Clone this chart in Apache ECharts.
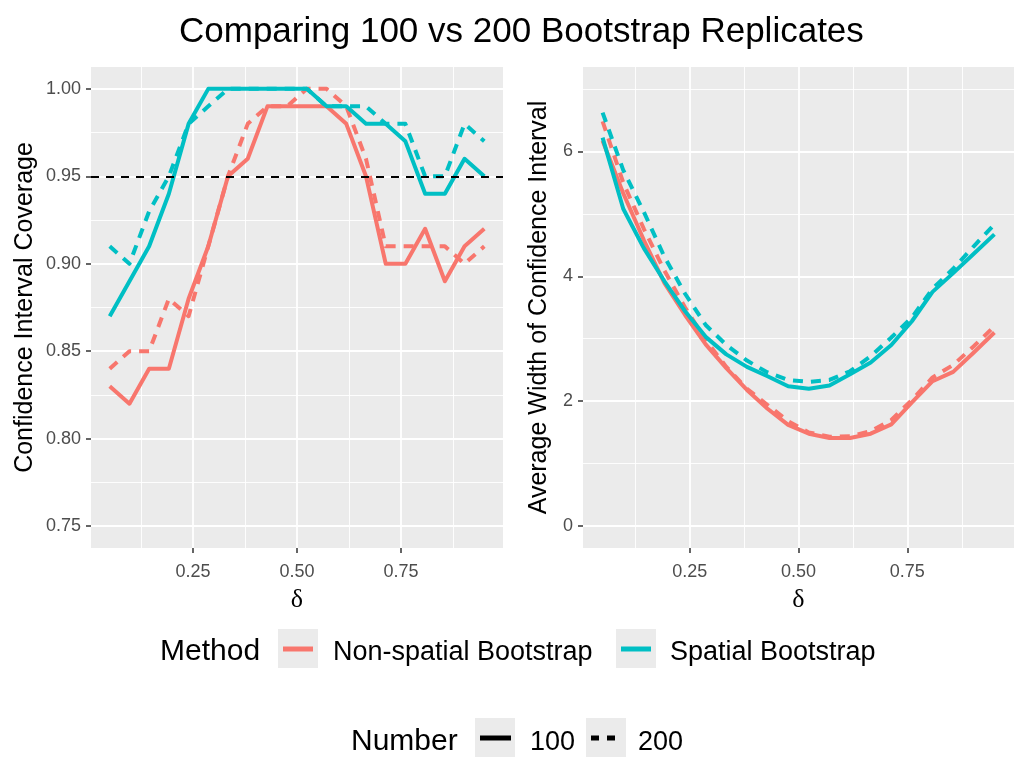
<!DOCTYPE html>
<html>
<head>
<meta charset="utf-8">
<script src="https://cdn.jsdelivr.net/npm/echarts@6/dist/echarts.min.js"></script>
<style>
  html, body { margin: 0; padding: 0; background: #fff; }
  #main { width: 1014px; height: 758px; }
</style>
</head>
<body>
<div id="main"></div>
<script>
// delta values (seq(0.05, 0.95, length = 20))
var delta = [0.05, 0.0974, 0.1447, 0.1921, 0.2395, 0.2868, 0.3342, 0.3816, 0.4289, 0.4763,
             0.5237, 0.5711, 0.6184, 0.6658, 0.7132, 0.7605, 0.8079, 0.8553, 0.9026, 0.95];

// coverage
var covNonSpatial100 = [0.83, 0.82, 0.84, 0.84, 0.88, 0.91, 0.95, 0.96, 0.99, 0.99, 0.99, 0.99, 0.98, 0.95, 0.90, 0.90, 0.92, 0.89, 0.91, 0.92];
var covNonSpatial200 = [0.84, 0.85, 0.85, 0.88, 0.87, 0.91, 0.95, 0.98, 0.99, 0.99, 1.00, 1.00, 0.99, 0.96, 0.91, 0.91, 0.91, 0.91, 0.90, 0.91];
var covSpatial100 = [0.87, 0.89, 0.91, 0.94, 0.98, 1.00, 1.00, 1.00, 1.00, 1.00, 1.00, 0.99, 0.99, 0.98, 0.98, 0.97, 0.94, 0.94, 0.96, 0.95];
var covSpatial200 = [0.91, 0.90, 0.93, 0.95, 0.98, 0.99, 1.00, 1.00, 1.00, 1.00, 1.00, 0.99, 0.99, 0.99, 0.98, 0.98, 0.95, 0.95, 0.98, 0.97];
var nominal = 0.95;

// average width
var widNonSpatial100 = [6.17, 5.33, 4.58, 3.89, 3.38, 2.91, 2.53, 2.18, 1.88, 1.62, 1.48, 1.41, 1.41, 1.48, 1.63, 1.98, 2.32, 2.47, 2.78, 3.10];
var widNonSpatial200 = [6.48, 5.50, 4.76, 4.09, 3.50, 2.98, 2.55, 2.20, 1.94, 1.68, 1.50, 1.43, 1.44, 1.52, 1.70, 2.02, 2.38, 2.58, 2.88, 3.20];
var widSpatial100 = [6.22, 5.08, 4.45, 3.92, 3.44, 3.03, 2.75, 2.55, 2.40, 2.24, 2.20, 2.25, 2.43, 2.62, 2.90, 3.28, 3.75, 4.05, 4.36, 4.67];
var widSpatial200 = [6.62, 5.70, 5.03, 4.31, 3.72, 3.22, 2.90, 2.65, 2.46, 2.34, 2.31, 2.34, 2.48, 2.72, 3.02, 3.34, 3.80, 4.12, 4.48, 4.83];

// ticks
var xMajor = [0.25, 0.5, 0.75];
var xMinor = [0.125, 0.375, 0.625, 0.875];
var covMajor = [0.75, 0.8, 0.85, 0.9, 0.95, 1.0];
var covMinor = [0.775, 0.825, 0.875, 0.925, 0.975];
var widMajor = [0, 2, 4, 6];
var widMinor = [1, 3, 5, 7];

var RED = '#F8766D', CYAN = '#00BFC4';
var SANS = 'Liberation Sans, Arial, sans-serif';
var DASH = [10, 8];

function pairs(ys) {
  return delta.map(function (d, i) { return [d, ys[i]]; });
}

function majorAxis(grid, min, max, ticks, fmt, margin, extra) {
  var ax = {
    gridIndex: grid, type: 'value', min: min, max: max,
    axisLine: { show: false, onZero: false },
    axisTick: { show: true, customValues: ticks, length: 5, lineStyle: { color: '#333', width: 1.5 } },
    axisLabel: { customValues: ticks, formatter: fmt, color: '#4d4d4d', fontSize: 18, fontFamily: SANS, margin: margin },
    splitLine: { show: true, lineStyle: { color: '#ffffff', width: 1.8 } }
  };
  for (var k in extra) ax[k] = extra[k];
  return ax;
}

function minorAxis(grid, min, max, ticks) {
  return {
    gridIndex: grid, type: 'value', min: min, max: max,
    axisLine: { show: false, onZero: false },
    axisTick: { show: false, customValues: ticks },
    axisLabel: { show: false, customValues: ticks },
    splitLine: { show: true, lineStyle: { color: '#ffffff', width: 0.9 } }
  };
}

function line(xi, yi, ys, color, dash) {
  return {
    type: 'line', xAxisIndex: xi, yAxisIndex: yi, data: pairs(ys),
    symbol: 'none', animation: false, silent: true,
    lineStyle: { color: color, width: 4, type: dash || 'solid', cap: 'butt', join: 'round' }
  };
}

var deltaName = { name: 'δ', nameLocation: 'middle', nameGap: 39,
  nameTextStyle: { fontFamily: 'Liberation Serif, serif', fontSize: 26, color: '#000' } };

var myChart = echarts.init(document.getElementById('main'));

var options = {
  backgroundColor: '#ffffff',
  animation: false,
  title: {
    text: 'Comparing 100 vs 200 Bootstrap Replicates',
    left: 174, top: 10,
    textStyle: { fontFamily: SANS, fontWeight: 'normal', fontSize: 35, color: '#000' }
  },
  grid: [
    { left: 91, top: 67, width: 412, height: 481, show: true, backgroundColor: '#EBEBEB', borderWidth: 0 },
    { left: 583, top: 67, width: 440, height: 481, show: true, backgroundColor: '#EBEBEB', borderWidth: 0 }
  ],
  xAxis: [
    majorAxis(0, 0.005, 0.995, xMajor, function (v) { return v.toFixed(2); }, 15, deltaName),
    minorAxis(0, 0.005, 0.995, xMinor),
    majorAxis(1, 0.005, 0.995, xMajor, function (v) { return v.toFixed(2); }, 15, deltaName),
    minorAxis(1, 0.005, 0.995, xMinor)
  ],
  yAxis: [
    majorAxis(0, 0.7375, 1.0125, covMajor, function (v) { return v.toFixed(2); }, 10,
      { name: 'Confidence Interval Coverage', nameLocation: 'middle', nameGap: 53,
        nameTextStyle: { fontFamily: SANS, fontSize: 25, color: '#000' } }),
    minorAxis(0, 0.7375, 1.0125, covMinor),
    majorAxis(1, -0.35, 7.35, widMajor, function (v) { return String(v); }, 10,
      { name: 'Average Width of Confidence Interval', nameLocation: 'middle', nameGap: 31,
        nameTextStyle: { fontFamily: SANS, fontSize: 25, color: '#000' } }),
    minorAxis(1, -0.35, 7.35, widMinor)
  ],
  series: [
    line(0, 0, covNonSpatial100, RED),
    line(0, 0, covNonSpatial200, RED, DASH),
    line(0, 0, covSpatial100, CYAN),
    line(0, 0, covSpatial200, CYAN, DASH),
    line(2, 2, widNonSpatial100, RED),
    line(2, 2, widNonSpatial200, RED, DASH),
    line(2, 2, widSpatial100, CYAN),
    line(2, 2, widSpatial200, CYAN, DASH),
    {
      type: 'line', xAxisIndex: 0, yAxisIndex: 0, data: [], z: 5, silent: true,
      markLine: {
        silent: true, symbol: 'none', animation: false, label: { show: false },
        lineStyle: { color: '#000', width: 2, type: [8, 7] },
        data: [{ yAxis: nominal }]
      }
    }
  ],
  graphic: [
    // Method legend
    { type: 'text', left: 160, top: 637, style: { text: 'Method', font: '30px ' + SANS, fill: '#000' } },
    { type: 'rect', shape: { x: 278, y: 629, width: 40, height: 39 }, style: { fill: '#EBEBEB' } },
    { type: 'line', shape: { x1: 283, y1: 649, x2: 313, y2: 649 }, style: { stroke: RED, lineWidth: 5 } },
    { type: 'text', left: 333, top: 639, style: { text: 'Non-spatial Bootstrap', font: '27px ' + SANS, fill: '#000' } },
    { type: 'rect', shape: { x: 616, y: 629, width: 40, height: 39 }, style: { fill: '#EBEBEB' } },
    { type: 'line', shape: { x1: 621, y1: 649, x2: 651, y2: 649 }, style: { stroke: CYAN, lineWidth: 5 } },
    { type: 'text', left: 670, top: 639, style: { text: 'Spatial Bootstrap', font: '27px ' + SANS, fill: '#000' } },
    // Number legend
    { type: 'text', left: 351, top: 727, style: { text: 'Number', font: '30px ' + SANS, fill: '#000' } },
    { type: 'rect', shape: { x: 475, y: 718, width: 40, height: 39 }, style: { fill: '#EBEBEB' } },
    { type: 'line', shape: { x1: 480, y1: 738, x2: 511, y2: 738 }, style: { stroke: '#000', lineWidth: 5 } },
    { type: 'text', left: 530, top: 729, style: { text: '100', font: '27px ' + SANS, fill: '#000' } },
    { type: 'rect', shape: { x: 586, y: 718, width: 40, height: 39 }, style: { fill: '#EBEBEB' } },
    { type: 'line', shape: { x1: 591, y1: 738, x2: 615, y2: 738 }, style: { stroke: '#000', lineWidth: 5, lineDash: [8, 8] } },
    { type: 'text', left: 638, top: 729, style: { text: '200', font: '27px ' + SANS, fill: '#000' } }
  ]
};

myChart.setOption(options);
</script>
</body>
</html>
